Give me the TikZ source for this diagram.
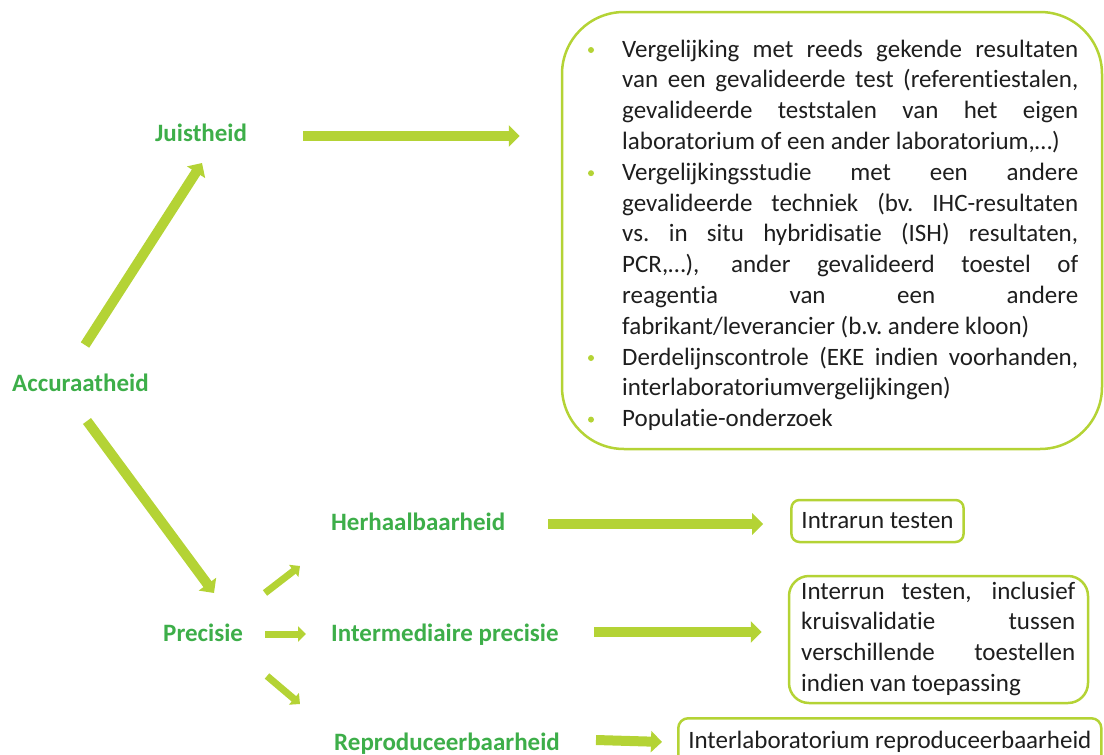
\documentclass[tikz,border=0pt]{standalone}
\usepackage{fontspec}
\setmainfont{Carlito}[Ligatures=NoCommon]
\usetikzlibrary{arrows.meta}

\definecolor{arrowlime}{HTML}{B4D335}
\definecolor{termgreen}{HTML}{3DAE49}
\definecolor{bodyink}{HTML}{1E1E1E}

% one fully justified line of a paragraph
\newcommand\jline[1]{\makebox[\linewidth][s]{#1}}

\tikzset{
  termlabel/.style={font=\bfseries\fontsize{25}{30}\selectfont, text=termgreen, inner sep=0pt, anchor=base west},
  bodyfont/.style={font=\fontsize{25}{30.8}\selectfont, text=bodyink, inner sep=0pt, anchor=base west},
  boxframe/.style={draw=arrowlime, line width=2.5pt},
  bulletdot/.style={circle, fill=arrowlime, inner sep=0pt, minimum size=6pt},
  bigarrow/.style={draw=arrowlime, line width=10pt, -{Triangle[length=11pt,width=21pt]}},
  smallarrow/.style={draw=arrowlime, line width=7pt, -{Triangle[length=8pt,width=15pt]}},
}

\begin{document}
\begin{tikzpicture}[x=1pt,y=-1pt]
\useasboundingbox (0,0) rectangle (1104,755);

% ---- terms ----
\node[termlabel] (acc) at (12,391) {Accuraatheid};
\node[termlabel] (jui) at (155,141) {Juistheid};
\node[termlabel] (pre) at (163,641) {Precisie};
\node[termlabel] (her) at (331,530) {Herhaalbaarheid};
\node[termlabel] (int) at (331,641) {Intermediaire precisie};
\node[termlabel] (rep) at (334,750) {Reproduceerbaarheid};

% ---- large box with the methods for trueness ----
\node[boxframe, rounded corners=62pt, minimum width=540pt, minimum height=437pt, inner sep=0pt] (box1) at (832,230.5) {};

\node[bulletdot] (b1) at (591,50) {};
\node[bulletdot] (b2) at (591,173.2) {};
\node[bulletdot] (b3) at (591,358) {};
\node[bulletdot] (b4) at (591,419.6) {};

\node[bodyfont] (it1) at (622,57) {\parbox[t]{456pt}{%
  \jline{Vergelijking met reeds gekende resultaten}\\
  \jline{van een gevalideerde test (referentiestalen,}\\
  \jline{gevalideerde teststalen van het eigen}\\
  laboratorium of een ander laboratorium,…)}};
\node[bodyfont] (it2) at (622,180.2) {\parbox[t]{456pt}{%
  \jline{Vergelijkingsstudie met een andere}\\
  \jline{gevalideerde techniek (bv.\ IHC-resultaten}\\
  \jline{vs.\ in situ hybridisatie (ISH) resultaten,}\\
  \jline{PCR,…), ander gevalideerd toestel of}\\
  \jline{reagentia van een andere}\\
  fabrikant/leverancier (b.v.\ andere kloon)}};
\node[bodyfont] (it3) at (622,365) {\parbox[t]{456pt}{%
  \jline{Derdelijnscontrole (EKE indien voorhanden,}\\
  interlaboratoriumvergelijkingen)}};
\node[bodyfont] (it4) at (622,426.6) {Populatie-onderzoek};

% ---- boxes for the precision levels ----
\node[boxframe, rounded corners=8pt, inner xsep=10pt, inner ysep=0pt, minimum height=42pt,
      font=\fontsize{25}{30.8}\selectfont, text=bodyink] (box2) at (877.5,521) {Intrarun testen};

\node[boxframe, rounded corners=20pt, minimum width=299pt, minimum height=127pt, inner sep=0pt] (box3) at (938.5,639.5) {};
\node[bodyfont] (box3txt) at (801,599) {\parbox[t]{274pt}{%
  \jline{Interrun testen, inclusief}\\
  \jline{kruisvalidatie tussen}\\
  \jline{verschillende toestellen}\\
  indien van toepassing}};

\node[boxframe, rounded corners=10pt, anchor=north west, inner xsep=10pt, inner ysep=13pt,
      font=\fontsize{25}{30.8}\selectfont, text=bodyink] (box4) at (677,717) {Interlaboratorium reproduceerbaarheid};

% ---- connectors ----
\draw[bigarrow] ([shift={(73,-46)}]acc.base west) -- ([shift={(47,22)}]jui.base west);
\draw[bigarrow] ([shift={(75,30)}]acc.base west) -- ([shift={(51,-48)}]pre.base west);
\draw[bigarrow] ([shift={(148,-5)}]jui.base west) -- ([shift={(-41,-94.5)}]box1.west);
\draw[bigarrow] ([shift={(217,-6)}]her.base west) -- ([shift={(-27,3)}]box2.west);
\draw[bigarrow] ([shift={(263,-9)}]int.base west) -- ([shift={(-26,-7.5)}]box3.west);
\draw[bigarrow] ([shift={(262,-10)}]rep.base west) -- ([shift={(-15,0)}]box4.west);

\draw[smallarrow] ([shift={(102,-48)}]pre.base west) -- ([shift={(137,-75)}]pre.base west);
\draw[smallarrow] ([shift={(102,-7)}]pre.base west) -- ([shift={(143,-7)}]pre.base west);
\draw[smallarrow] ([shift={(104,35)}]pre.base west) -- ([shift={(137,63)}]pre.base west);
\end{tikzpicture}
\end{document}
